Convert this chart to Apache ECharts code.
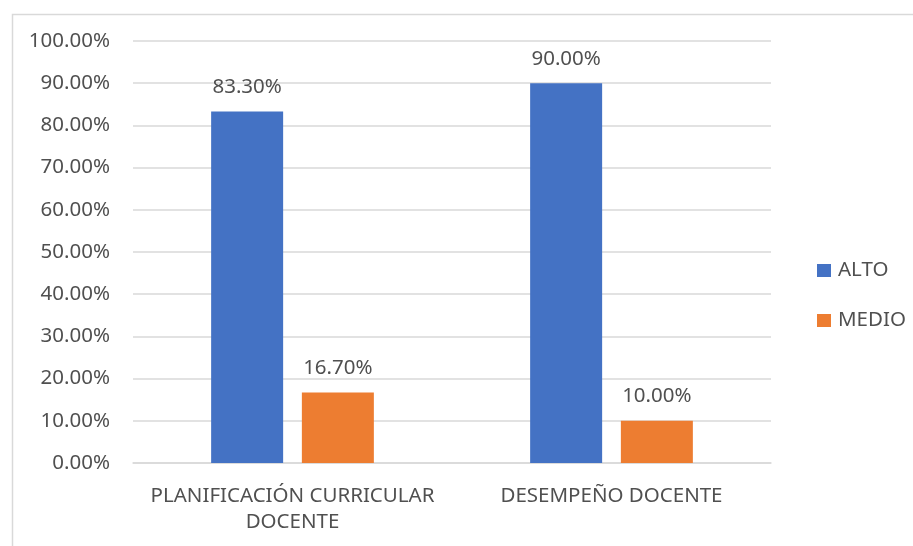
<!DOCTYPE html>
<html>
<head>
<meta charset="utf-8">
<script src="https://cdn.jsdelivr.net/npm/echarts@6/dist/echarts.min.js"></script>
<style>html,body{margin:0;padding:0;background:#fff}#c{width:913px;height:546px}</style>
</head>
<body>
<div id="c"></div>
<script>
const categories = ['PLANIFICACIÓN CURRICULAR\nDOCENTE', 'DESEMPEÑO DOCENTE'];
const seriesNames = ['ALTO', 'MEDIO'];
const alto = [83.3, 90.0];
const medio = [16.7, 10.0];
const yTicks = { min: 0, max: 100, interval: 10 };

const FONT = 'Noto Sans';
const TXT = '#505050';
const FS = 20.5;
const chart = echarts.init(document.getElementById('c'));
const pct = v => v.toFixed(2) + '%';
chart.setOption({
  animation: false,
  textStyle: { fontFamily: FONT },
  graphic: [{
    type: 'rect', left: 10, top: 12,
    shape: { width: 920, height: 560 },
    style: { fill: 'none', stroke: '#D9D9D9', lineWidth: 1.5 }, silent: true
  }],
  grid: { left: 133, right: 142, top: 41, bottom: 83 },
  legend: {
    orient: 'vertical', left: 812, top: 255,
    itemWidth: 14, itemHeight: 13, itemGap: 29,
    icon: 'rect',
    textStyle: { color: TXT, fontSize: FS, fontFamily: FONT, padding: [0, 0, 0, 2] },
    data: seriesNames
  },
  xAxis: {
    type: 'category', data: categories,
    axisLine: { lineStyle: { color: '#D9D9D9', width: 1.5 } },
    axisTick: { show: false },
    axisLabel: { color: TXT, fontSize: FS, fontFamily: FONT, margin: 20, lineHeight: 26, interval: 0 }
  },
  yAxis: {
    type: 'value', min: yTicks.min, max: yTicks.max, interval: yTicks.interval,
    axisLine: { show: false }, axisTick: { show: false },
    splitLine: { lineStyle: { color: '#D9D9D9', width: 1.5 } },
    axisLabel: { color: TXT, fontSize: FS, fontFamily: FONT, margin: 23, formatter: pct }
  },
  series: [
    { name: seriesNames[0], type: 'bar', data: alto, barWidth: 72, barGap: '26%',
      itemStyle: { color: '#4472C4' },
      label: { show: true, position: 'top', distance: 14, color: TXT, fontSize: FS, fontFamily: FONT, formatter: p => pct(p.value) } },
    { name: seriesNames[1], type: 'bar', data: medio, barWidth: 72, barGap: '26%',
      itemStyle: { color: '#ED7D31' },
      label: { show: true, position: 'top', distance: 14, color: TXT, fontSize: FS, fontFamily: FONT, formatter: p => pct(p.value) } }
  ]
});
</script>
</body>
</html>
